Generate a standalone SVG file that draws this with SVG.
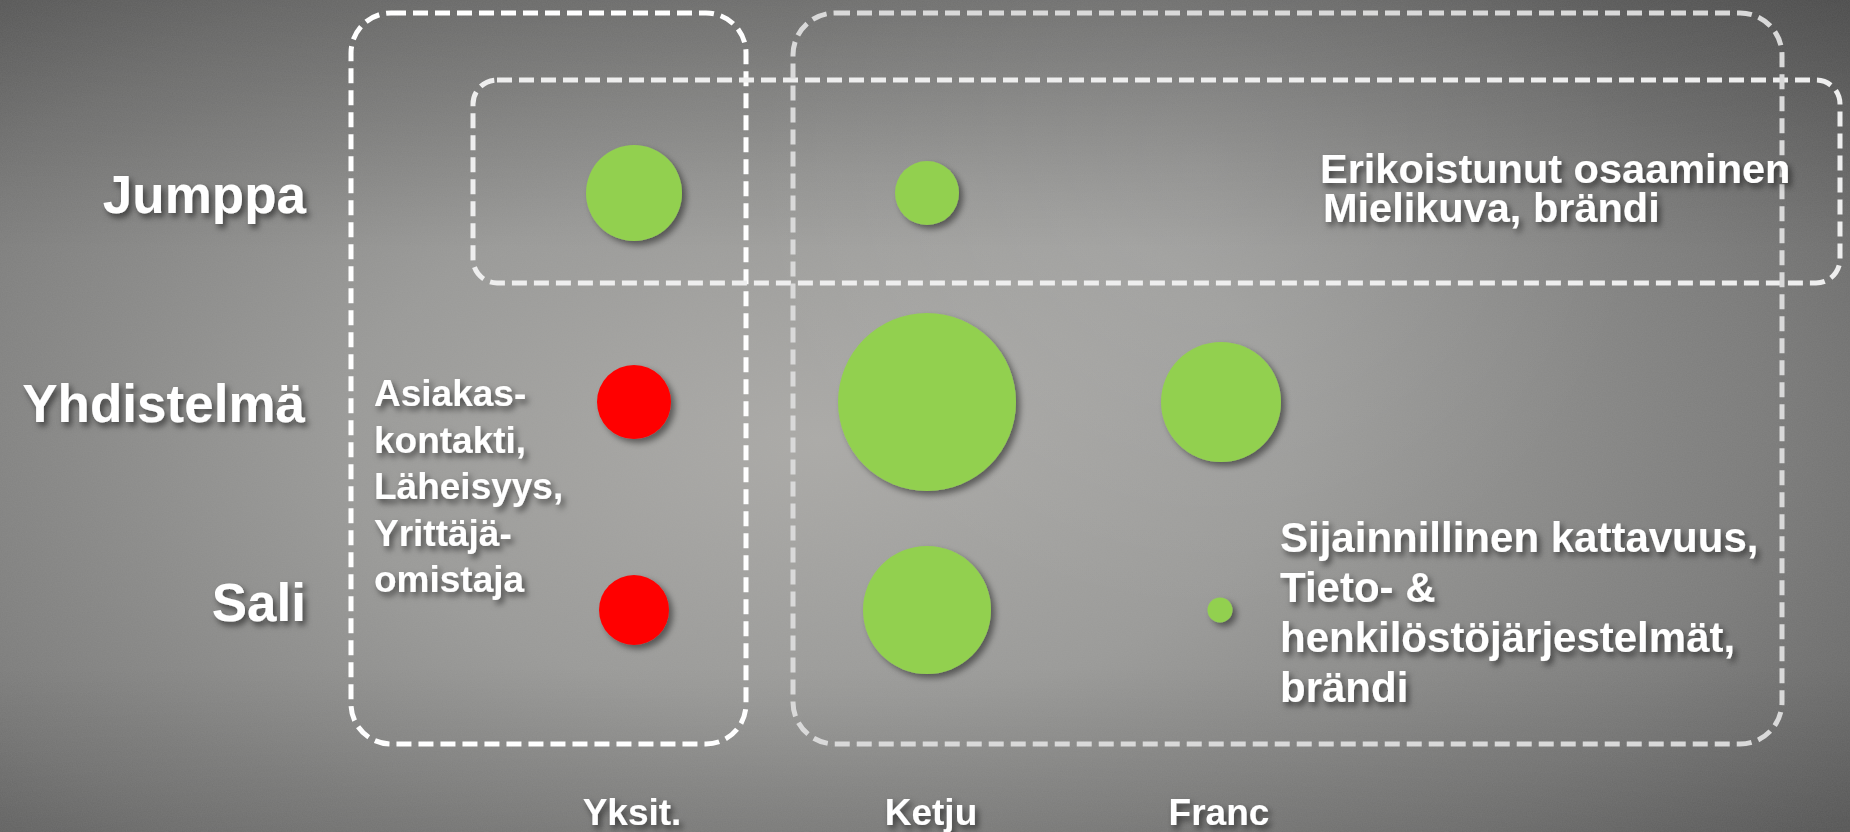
<svg xmlns="http://www.w3.org/2000/svg" width="1850" height="832" viewBox="0 0 1850 832">
<style>
.lbl{font-family:"Liberation Sans",Arial,sans-serif;font-weight:bold;fill:#ffffff;}
.box{fill:none;stroke-width:5;stroke-dasharray:15 7;}
.g{fill:#92d050;}
.r{fill:#ff0000;}
</style>
<defs>
<radialGradient id="bg" cx="0" cy="0" r="1" gradientUnits="userSpaceOnUse" gradientTransform="translate(820 440) scale(1350 760)">
<stop offset="0" stop-color="#abaaa7"/>
<stop offset="0.35" stop-color="#9a9a98"/>
<stop offset="0.7" stop-color="#7b7b7a"/>
<stop offset="1" stop-color="#575757"/>
</radialGradient>
<radialGradient id="hl" cx="1200" cy="170" r="450" gradientUnits="userSpaceOnUse">
<stop offset="0" stop-color="#ffffff" stop-opacity="0.10"/>
<stop offset="1" stop-color="#ffffff" stop-opacity="0"/>
</radialGradient>
<linearGradient id="tv" x1="0" y1="0" x2="0" y2="1">
<stop offset="0" stop-color="#000" stop-opacity="0.18"/>
<stop offset="0.3" stop-color="#000" stop-opacity="0"/>
<stop offset="0.8" stop-color="#000" stop-opacity="0"/>
<stop offset="1" stop-color="#000" stop-opacity="0.12"/>
</linearGradient>
<filter id="noise" x="0" y="0" width="100%" height="100%">
<feTurbulence type="fractalNoise" baseFrequency="0.8" numOctaves="2" seed="3"/>
<feColorMatrix type="matrix" values="0 0 0 0 0.5  0 0 0 0 0.5  0 0 0 0 0.5  0 0 0 0.12 0"/>
</filter>
<filter id="ts" x="-10%" y="-30%" width="130%" height="170%">
<feDropShadow dx="3" dy="4" stdDeviation="3" flood-color="#000" flood-opacity="0.55"/>
</filter>
<filter id="cs" x="-30%" y="-30%" width="170%" height="170%">
<feDropShadow dx="4" dy="4" stdDeviation="3" flood-color="#000" flood-opacity="0.45"/>
</filter>
</defs>
<rect width="1850" height="832" fill="url(#bg)"/>
<rect width="1850" height="832" fill="url(#hl)"/>
<rect width="1850" height="832" fill="url(#tv)"/>
<rect width="1850" height="832" filter="url(#noise)"/>

<g id="connectors">
<rect id="box-yksit" class="box" x="351" y="13" width="395" height="731" rx="40" ry="40" stroke="#ffffff"/>
<rect id="box-jumppa" class="box" x="473" y="80" width="1367" height="203" rx="24" ry="24" stroke="#eeeeee"/>
<rect id="box-ketju-franc" class="box" x="793" y="13" width="989" height="731" rx="42" ry="42" stroke="#d9d9d9"/>
</g>

<g id="row-labels" class="lbl" font-size="53" text-anchor="end" filter="url(#ts)">
<text id="lbl-jumppa" x="306" y="213">Jumppa</text>
<text id="lbl-yhdistelma" x="305" y="422">Yhdistelmä</text>
<text id="lbl-sali" x="306" y="621">Sali</text>
</g>

<g id="col-labels" class="lbl" font-size="37" text-anchor="middle" filter="url(#ts)">
<text id="lbl-yksit" x="632" y="825">Yksit.</text>
<text id="lbl-ketju" x="931" y="825">Ketju</text>
<text id="lbl-franc" x="1219" y="825">Franc</text>
</g>

<g id="node-yksit-text" class="lbl" font-size="37" filter="url(#ts)">
<text x="374" y="406">Asiakas-</text>
<text x="374" y="452.5">kontakti,</text>
<text x="374" y="499">Läheisyys,</text>
<text x="374" y="545.5">Yrittäjä-</text>
<text x="374" y="592">omistaja</text>
</g>

<g id="node-jumppa-text" class="lbl" font-size="41.5" filter="url(#ts)">
<text x="1320" y="183">Erikoistunut osaaminen</text>
<text x="1323" y="222">Mielikuva, brändi</text>
</g>

<g id="node-ketju-text" class="lbl" font-size="42" filter="url(#ts)">
<text x="1280" y="552">Sijainnillinen kattavuus,</text>
<text x="1280" y="602">Tieto- &amp;</text>
<text x="1280" y="652">henkilöstöjärjestelmät,</text>
<text x="1280" y="702">brändi</text>
</g>

<g id="circles" filter="url(#cs)">
<g id="jumppa-yksit"><circle class="g" cx="634" cy="193" r="48"/></g>
<g id="jumppa-ketju"><circle class="g" cx="927" cy="193" r="32"/></g>
<g id="yhdistelma-yksit"><circle class="r" cx="634" cy="402" r="37"/></g>
<g id="yhdistelma-ketju"><circle class="g" cx="927" cy="402" r="89"/></g>
<g id="yhdistelma-franc"><circle class="g" cx="1221" cy="402" r="60"/></g>
<g id="sali-yksit"><circle class="r" cx="634" cy="610" r="35"/></g>
<g id="sali-ketju"><circle class="g" cx="927" cy="610" r="64"/></g>
<g id="sali-franc"><circle class="g" cx="1220" cy="610" r="12.5"/></g>
</g>
</svg>
